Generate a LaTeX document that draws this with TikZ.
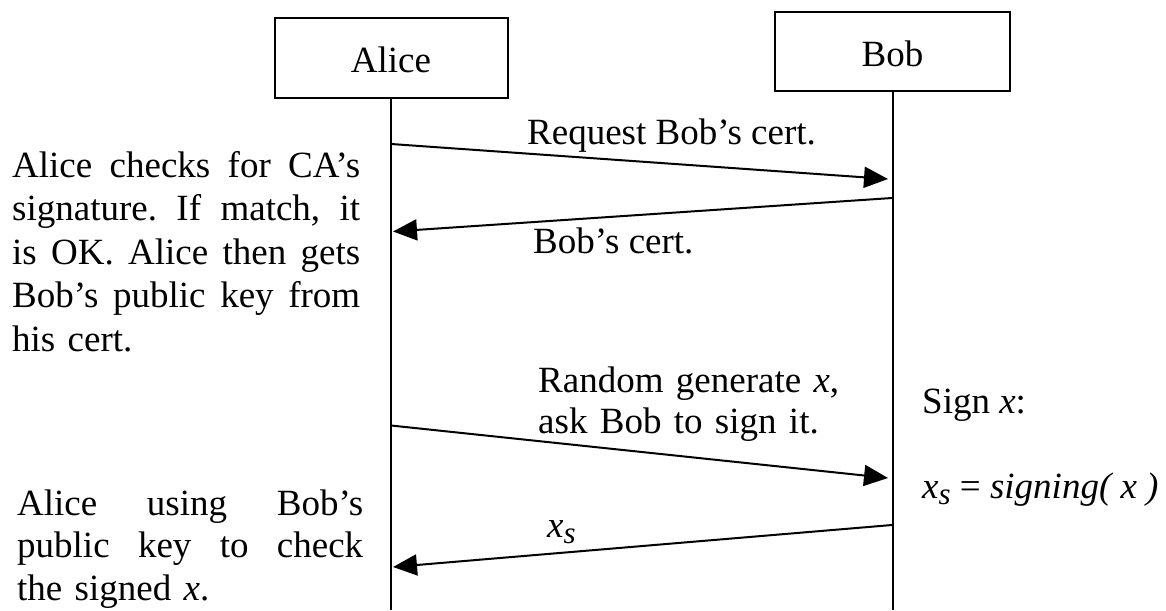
\documentclass[tikz,border=0pt]{standalone}
\usepackage{fontspec}
\setmainfont{Liberation Serif}
\usetikzlibrary{arrows.meta}
\newcommand\xsub{\textit{x}\raisebox{-6pt}{\fontsize{31pt}{31pt}\selectfont\textit{s}}}
\newcommand\jline[2]{\leavevmode\hbox to #1{#2}}
\begin{document}
\begin{tikzpicture}[x=1pt,y=-1pt,
  every node/.style={font=\fontsize{37pt}{43pt}\selectfont, inner sep=0pt},
  actor/.style={draw, line width=2pt, minimum width=233pt, minimum height=80pt, text height=30pt, text depth=0pt},
  life/.style={line width=2pt},
  msg/.style={line width=2pt, -{Triangle[length=24pt,width=21pt]}},
  lbl/.style={anchor=base west},
  para/.style={anchor=base west, align=left, text width=#1}]
\fill[white] (0,0) rectangle (1166,610);
\useasboundingbox (0,0) rectangle (1166,610);

% actors
\node[actor] (alice) at (391,58) {Alice};
\node[actor, minimum width=235pt, minimum height=79pt] (bob) at (892.5,51.5) {Bob};
\coordinate (aliceEnd) at (391,610);
\coordinate (bobEnd) at (892.5,610);
\draw[life] (alice.south) -- (aliceEnd);
\draw[life] (bob.south) -- (bobEnd);

% message end points
\coordinate (a1) at (391,144);   \coordinate (b1) at (888,179);
\coordinate (b2) at (892,198);   \coordinate (a2) at (393,231.5);
\coordinate (a3) at (391,425.5); \coordinate (b3) at (888,478);
\coordinate (b4) at (892,525);   \coordinate (a4) at (393,567);

\draw[msg] (a1) -- (b1);
\draw[msg] (b2) -- (a2);
\draw[msg] (a3) -- (b3);
\draw[msg] (b4) -- (a4);

% message labels
\node[lbl] (m1) at (527,144) {Request Bob’s cert.};
\node[lbl] (m2) at (533,253) {Bob’s cert.};
\node[para=330pt, font=\fontsize{37pt}{41pt}\selectfont] (m3) at (538,392)
  {Random generate \textit{x},\\ask Bob to sign it.};
\node[lbl] (m4) at (547,537) {\xsub};

% Bob side notes
\node[lbl] (s1) at (922,413) {Sign \textit{x}:};
\node[lbl] (s2) at (922,498) {\xsub{} = \textit{signing( x )}};

% Alice side notes
\node[para=348pt, font=\fontsize{37pt}{43.5pt}\selectfont] (n1) at (12,177)
  {\jline{348pt}{Alice\hfill checks\hfill for\hfill CA’s}\\
   \jline{348pt}{signature.\hfill If\hfill match,\hfill it}\\
   \jline{348pt}{is\hfill OK.\hfill Alice\hfill then\hfill gets}\\
   \jline{348pt}{Bob’s\hfill public\hfill key\hfill from}\\
   his cert.};
\node[para=346pt, font=\fontsize{37pt}{42.5pt}\selectfont] (n2) at (17,515)
  {\jline{346pt}{Alice\hfill using\hfill Bob’s}\\
   \jline{346pt}{public\hfill key\hfill to\hfill check}\\
   the signed \textit{x}.};
\end{tikzpicture}
\end{document}
